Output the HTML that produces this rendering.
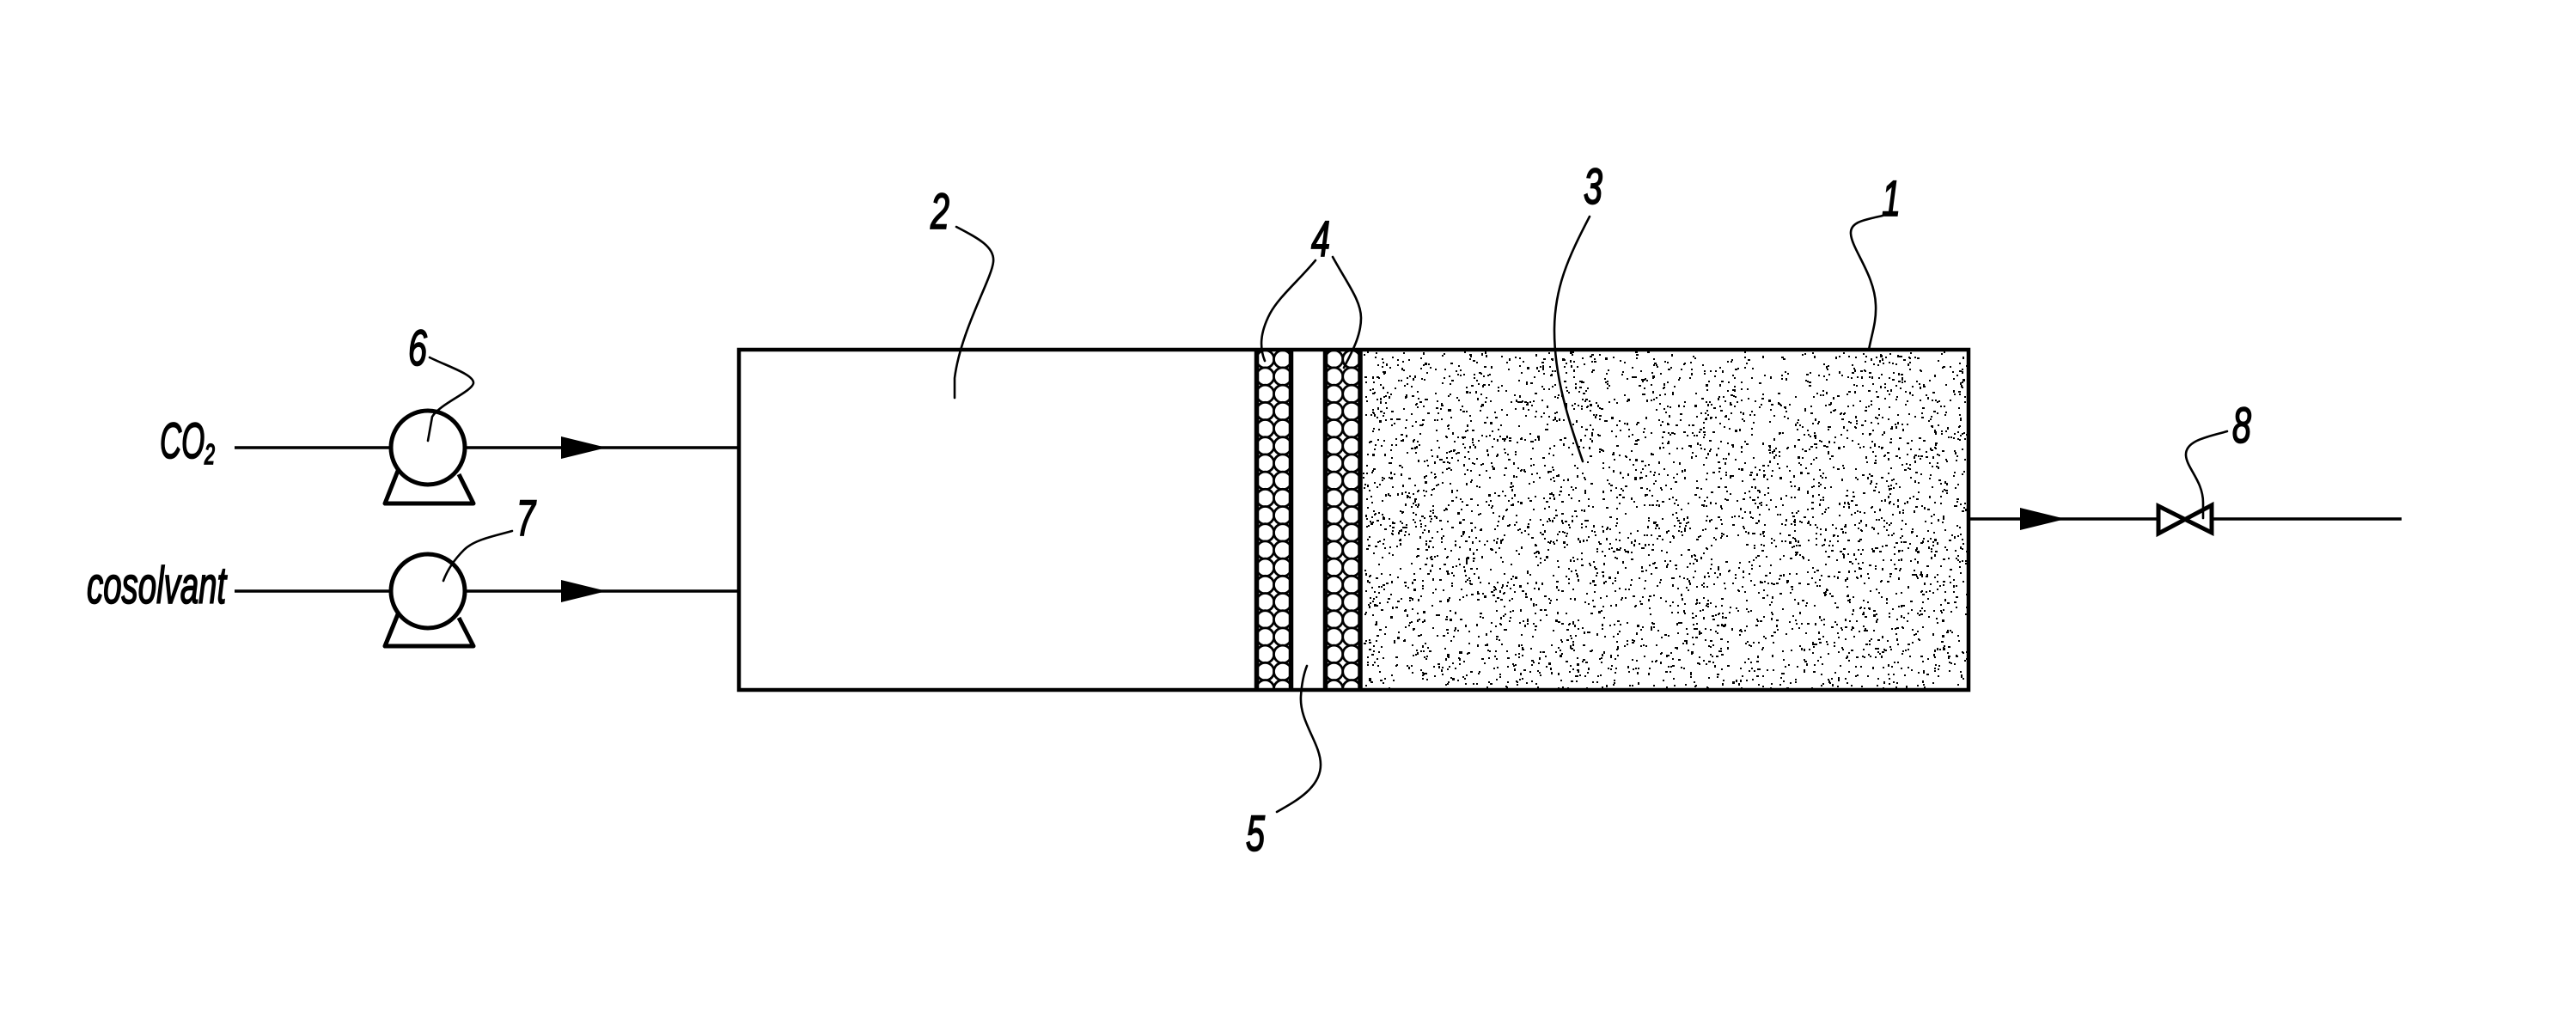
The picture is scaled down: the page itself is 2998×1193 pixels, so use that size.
<!DOCTYPE html>
<html><head><meta charset="utf-8">
<style>
html,body{margin:0;padding:0;background:#fff}
svg{display:block}
text{font-family:"Liberation Sans",sans-serif;font-style:italic;fill:#000;stroke:#000;stroke-width:1.8}
</style></head>
<body>
<svg xmlns="http://www.w3.org/2000/svg" width="2998" height="1193" viewBox="0 0 2998 1193">
<rect width="2998" height="1193" fill="#fff"/>
<defs>
<clipPath id="vessel"><rect x="860" y="407" width="1431" height="396"/></clipPath>
</defs>
<path id="dots" d="" fill="#000" clip-path="url(#vessel)"/>
<g id="circles" fill="#fff" stroke="#000" stroke-width="2.8" clip-path="url(#vessel)"></g>

<!-- vessel -->
<g fill="none" stroke="#000" stroke-linecap="butt">
<rect x="860" y="407" width="1431" height="396" stroke-width="4.5"/>
<line x1="1462.5" y1="407" x2="1462.5" y2="803" stroke-width="5.5"/>
<line x1="1502.5" y1="407" x2="1502.5" y2="803" stroke-width="5.5"/>
<line x1="1542.5" y1="407" x2="1542.5" y2="803" stroke-width="5.5"/>
<line x1="1583" y1="407" x2="1583" y2="803" stroke-width="5.5"/>
</g>

<!-- pipes -->
<g stroke="#000" stroke-width="3.5" fill="none">
<line x1="273" y1="521" x2="860" y2="521"/>
<line x1="273" y1="688" x2="860" y2="688"/>
<line x1="2291" y1="604" x2="2795" y2="604"/>
</g>

<!-- pumps -->
<g fill="#fff" stroke="#000" stroke-width="5">
<path d="M463 548 L448 586 H551 L534 552" fill="none" stroke-linejoin="round"/>
<circle cx="498" cy="521" r="43"/>
<path d="M463 715 L448 752 H551 L534 719" fill="none" stroke-linejoin="round"/>
<circle cx="498" cy="688" r="43"/>
</g>

<!-- arrows -->
<g fill="#000">
<polygon points="653,508 706,521 653,534"/>
<polygon points="653,675 706,688 653,701"/>
<polygon points="2351,591 2404,604 2351,617"/>
</g>

<!-- valve -->
<path d="M2512 589 L2574 620 V588 L2512 621 Z" fill="#fff" stroke="#000" stroke-width="5" stroke-linejoin="miter"/>

<!-- leaders -->
<g fill="none" stroke="#000" stroke-width="2.6" stroke-linecap="round">
<path d="M1113 264 C1140 278 1158 288 1156 305 C1154 325 1118 385 1111 440 L1111 463"/>
<path d="M1531 303 C1510 328 1489 345 1478 365 C1466 388 1466 405 1472 420"/>
<path d="M1551 299 C1568 330 1584 350 1584 370 C1584 392 1572 412 1564 428"/>
<path d="M1850 252 C1825 300 1809 335 1809 385 C1809 440 1826 490 1842 537"/>
<path d="M2191 251 C2170 256 2153 258 2154 272 C2155 290 2182 320 2183 355 C2184 375 2178 390 2175 407"/>
<path d="M1486 945 C1505 934 1537 918 1537 890 C1537 865 1512 840 1514 810 C1515 795 1517 785 1521 775"/>
<path d="M500 416 C520 426 552 436 551 446 C549 456 512 470 503 485 L498 513"/>
<path d="M596 618 C575 624 552 628 540 640 C528 652 520 665 516 676"/>
<path d="M2592 502 C2572 508 2543 512 2544 530 C2545 545 2564 560 2564 585 L2564 603"/>
</g>

<!-- labels -->
<text transform="translate(2190,251) scale(.68,1)" font-size="58">1</text>
<text transform="translate(1083,266) scale(.68,1)" font-size="58">2</text>
<text transform="translate(1843,237) scale(.68,1)" font-size="58">3</text>
<text transform="translate(1526,298) scale(.68,1)" font-size="58">4</text>
<text transform="translate(1450,990) scale(.68,1)" font-size="58">5</text>
<text transform="translate(475,425) scale(.68,1)" font-size="58">6</text>
<text transform="translate(601,623) scale(.68,1)" font-size="58">7</text>
<text transform="translate(2598,515) scale(.68,1)" font-size="58">8</text>
<text transform="translate(186,533) scale(.6,1)" font-size="58">CO</text>
<text transform="translate(238,540) scale(.65,1)" font-size="33">2</text>
<text transform="translate(101,702) scale(.64,1)" font-size="60">cosolvant</text>
</svg>
<script>
(function(){
  var s=12345;
  function r(){s=(s*1664525+1013904223)>>>0;return s/4294967296;}
  var d=[],n=0;
  while(n<3800){
    var x=1586+r()*703,y=409+r()*392;
    var c=0.8+0.2*Math.sin(x*0.071+Math.sin(y*0.043)*2.2)*Math.sin(y*0.083+Math.sin(x*0.037)*2.0);
    if(r()>c) continue;
    var w=r()<0.15?3:2,h=r()<0.15?3:2;
    d.push('M'+Math.round(x)+' '+Math.round(y)+'h'+w+'v'+h+'h-'+w+'z');
    n++;
  }
  document.getElementById('dots').setAttribute('d',d.join(''));
  var g=document.getElementById('circles'),cols=[1472.5,1492.8,1552.5,1573],out='';
  for(var k=0;k<cols.length;k++){
    for(var i=0;i<20;i++){
      out+='<circle cx="'+cols[k]+'" cy="'+(418+i*20.2)+'" r="10.3"/>';
    }
  }
  g.innerHTML=out;
})();
</script>
</body></html>
